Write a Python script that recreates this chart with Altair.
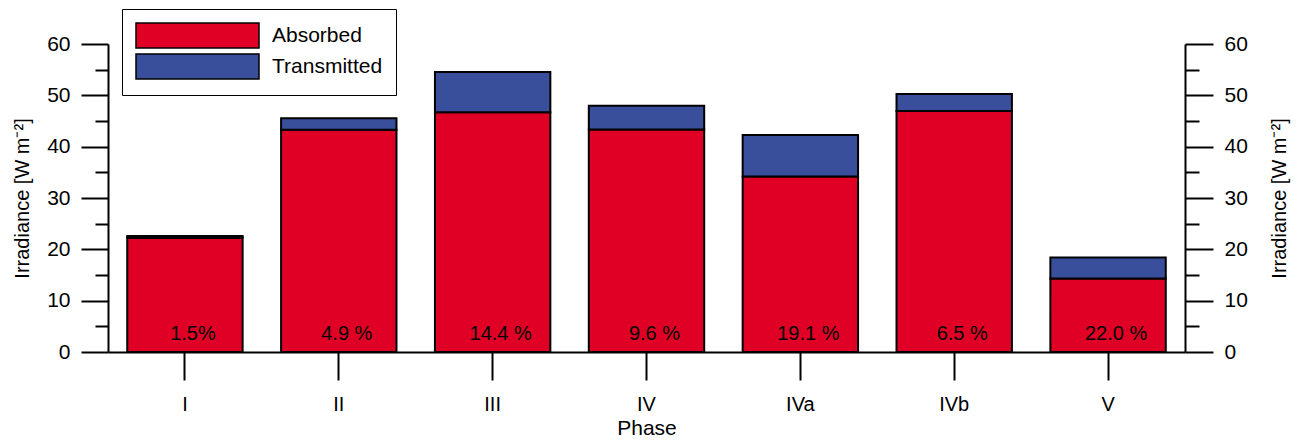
import altair as alt
import pandas as pd

phases = ["I", "II", "III", "IV", "IVa", "IVb", "V"]
absorbed = [22.25, 43.3, 46.7, 43.35, 34.2, 46.95, 14.3]
transmitted = [0.35, 2.25, 7.85, 4.6, 8.05, 3.3, 4.1]
pct_labels = ["1.5%", "4.9 %", "14.4 %", "9.6 %", "19.1 %", "6.5 %", "22.0 %"]
components = ["Absorbed", "Transmitted"]
colors = ["#E00026", "#3A4F9C"]
major_ticks = [0, 10, 20, 30, 40, 50, 60]
minor_ticks = [5, 15, 25, 35, 45, 55]

rows = []
for p, a, t in zip(phases, absorbed, transmitted):
    rows.append({"Phase": p, "Component": "Absorbed", "Value": a, "ord": 0})
    rows.append({"Phase": p, "Component": "Transmitted", "Value": t, "ord": 1})
df = pd.DataFrame(rows)
lab = pd.DataFrame({"Phase": phases, "label": pct_labels})

FONT = "Liberation Sans"
ytitle = "Irradiance [W m\u207b\u00b2]"

x_enc = alt.X(
    "Phase:N",
    sort=phases,
    scale=alt.Scale(paddingInner=0.25, paddingOuter=0.125),
    axis=alt.Axis(
        labelAngle=0, tickSize=28, tickWidth=2, domainWidth=2,
        domainColor="black", tickColor="black",
        labelFontSize=20, labelColor="black", labelPadding=14,
        title="Phase", titleFontSize=21, titleFontWeight="normal",
        titleColor="black", titlePadding=3,
    ),
)
yscale = alt.Scale(domain=[0, 60], nice=False, zero=True)


def yaxis(orient, values, size, labels, title):
    kw = dict(
        orient=orient, values=values, tickSize=size, tickWidth=2,
        tickColor="black", domainColor="black", domainWidth=2,
        labels=labels, grid=False,
    )
    if labels:
        kw.update(labelFontSize=21, labelColor="black", labelPadding=11)
    if title:
        kw.update(title=title, titleFontSize=20, titleFontWeight="normal",
                  titleColor="black")
        if orient == "right":
            kw.update(titleAngle=270, titleBaseline="top", titlePadding=22)
        else:
            kw.update(titlePadding=14)
    else:
        kw.update(title=None, domain=False)
    return alt.Axis(**kw)


def bar_layer(axis, opacity=1.0, legend=True):
    color = alt.Color(
        "Component:N",
        scale=alt.Scale(domain=components, range=colors),
        legend=alt.Legend(
            orient="none", legendX=14, legendY=-35, title=None,
            symbolType="M-1,-1L8.84,-1L8.84,1L-1,1Z", symbolSize=625,
            symbolStrokeColor="black", symbolStrokeWidth=1.5,
            symbolOpacity=1, labelFontSize=21, labelColor="black",
            labelOffset=110, strokeColor="black", fillColor="white",
            padding=13, rowPadding=0,
        ) if legend else None,
    )
    return alt.Chart(df).mark_bar(
        stroke="black", strokeWidth=2, opacity=opacity
    ).encode(
        x=x_enc,
        y=alt.Y("Value:Q", stack="zero", scale=yscale, axis=axis),
        color=color,
        order=alt.Order("ord:Q"),
    )


bars = bar_layer(yaxis("left", major_ticks, 27, True, ytitle))
left_minor = bar_layer(yaxis("left", minor_ticks, 13, False, None), 0.0, False)
right_major = bar_layer(yaxis("right", major_ticks, 28, True, ytitle), 0.0, False)
right_minor = bar_layer(yaxis("right", minor_ticks, 14, False, None), 0.0, False)

text = alt.Chart(lab).transform_calculate(zero="0").mark_text(
    fontSize=20, font=FONT, color="black", baseline="bottom", dx=8, dy=-8
).encode(
    x=x_enc,
    y=alt.Y("zero:Q", scale=yscale, axis=None),
    text="label:N",
)

chart = alt.layer(bars, left_minor, right_major, right_minor, text).resolve_axis(
    y="independent"
).properties(
    width=1077, height=308,
    autosize=alt.AutoSizeParams(type="none"),
    padding={"left": 108, "top": 44, "right": 113, "bottom": 89},
).configure(font=FONT).configure_view(stroke=None).configure_axis(
    labelFont=FONT, titleFont=FONT
).configure_legend(labelFont=FONT)

chart.save("out.html", embed_options={"renderer": "svg", "actions": False})
